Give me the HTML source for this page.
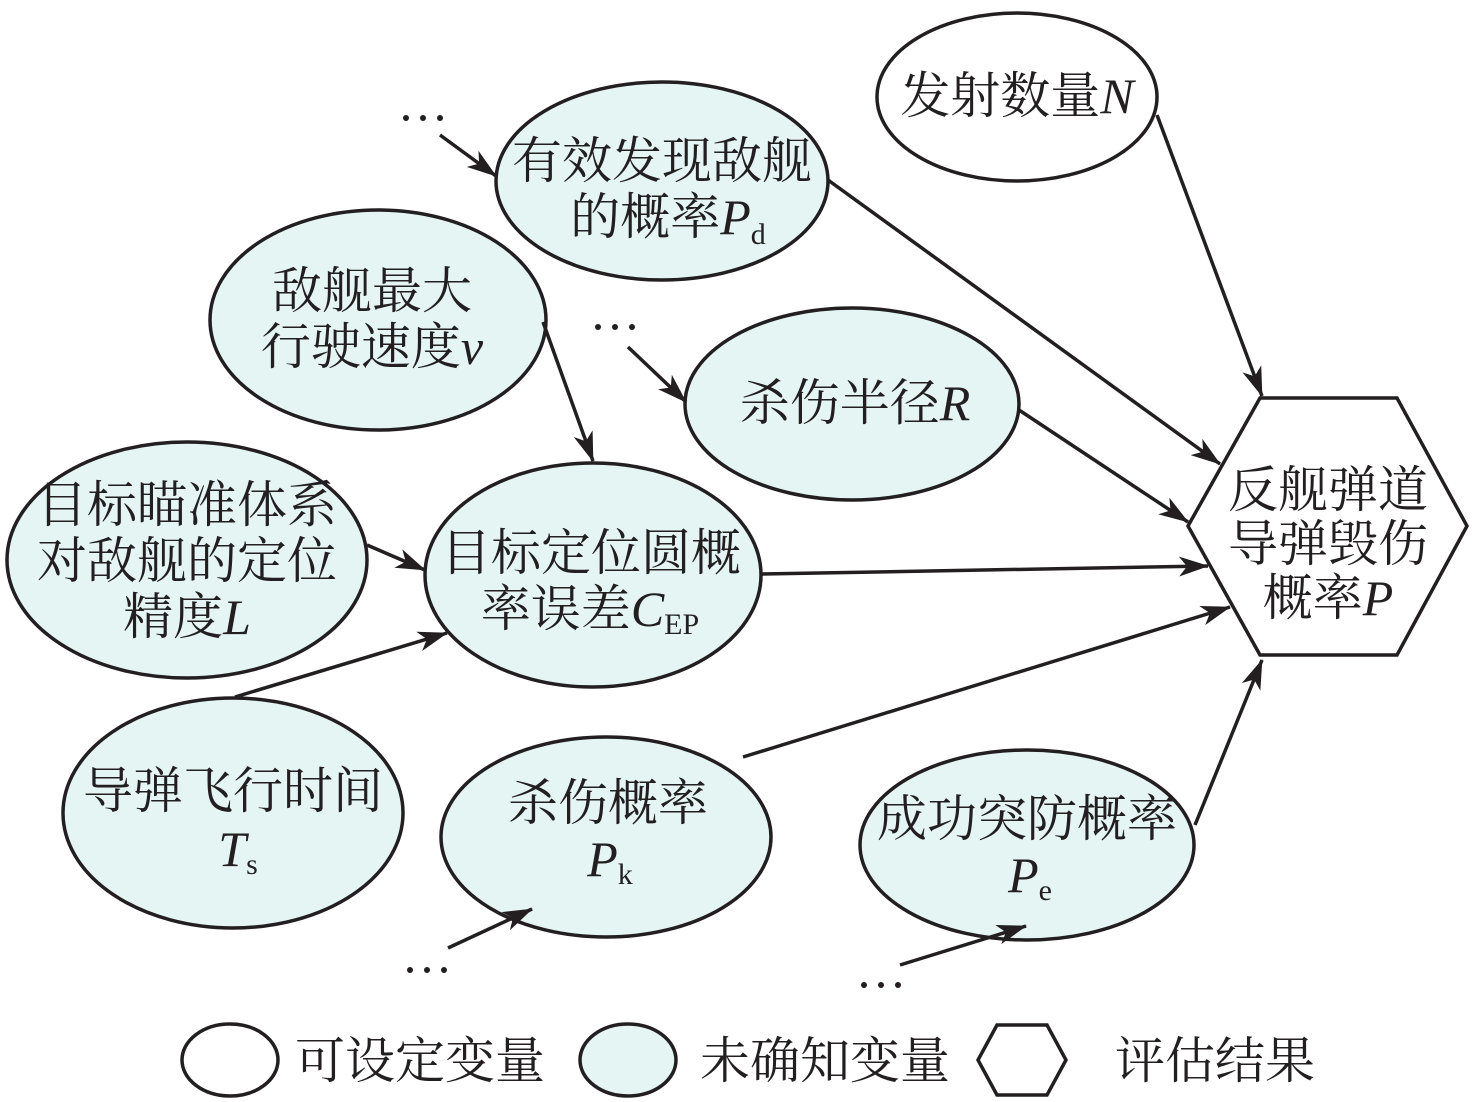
<!DOCTYPE html>
<html><head><meta charset="utf-8"><style>
html,body{margin:0;padding:0;background:#fff;}
svg{display:block;}
text{font-family:"Liberation Serif","Noto Serif CJK SC",serif;font-size:50px;fill:#231f20;}
.i{font-style:italic;}
.s{font-size:30px;font-style:normal;}
</style></head><body>
<svg width="1476" height="1102" viewBox="0 0 1476 1102" xmlns="http://www.w3.org/2000/svg">
<defs>
<marker id="a" viewBox="0 0 30 20" refX="29" refY="10" markerWidth="30" markerHeight="20" markerUnits="userSpaceOnUse" orient="auto">
<path d="M0,0 L30,10 L0,20 L8,10 Z" fill="#231f20"/>
</marker>
</defs>
<g stroke="#231f20" stroke-width="3.5">
<ellipse cx="1017" cy="97" rx="140" ry="84" fill="#fff"/>
<ellipse cx="662" cy="181" rx="166" ry="99" fill="#e4f5f4"/>
<ellipse cx="378" cy="320" rx="168" ry="110" fill="#e4f5f4"/>
<ellipse cx="852" cy="404" rx="167" ry="96" fill="#e4f5f4"/>
<ellipse cx="187" cy="560" rx="180" ry="118" fill="#e4f5f4"/>
<ellipse cx="593" cy="575" rx="168" ry="112" fill="#e4f5f4"/>
<ellipse cx="233" cy="813" rx="170" ry="115" fill="#e4f5f4"/>
<ellipse cx="606" cy="837" rx="165" ry="100" fill="#e4f5f4"/>
<ellipse cx="1027" cy="845" rx="167" ry="95" fill="#e4f5f4"/>
<polygon points="1188,526 1260,398 1397,398 1467,526 1397,655 1260,655" fill="#fff"/>
</g>
<g stroke="#231f20" stroke-width="3.5" fill="none" marker-end="url(#a)">
<line x1="1157" y1="115" x2="1262" y2="396"/>
<line x1="828" y1="180" x2="1220" y2="464"/>
<line x1="543" y1="322" x2="593" y2="461"/>
<line x1="1019" y1="410" x2="1188" y2="522"/>
<line x1="367" y1="545" x2="425" y2="570"/>
<line x1="762" y1="574" x2="1208" y2="566"/>
<line x1="235" y1="697" x2="447" y2="633"/>
<line x1="743" y1="757" x2="1230" y2="607"/>
<line x1="1195" y1="825" x2="1262" y2="660"/>
<line x1="440" y1="135" x2="496" y2="176"/>
<line x1="628" y1="347" x2="686" y2="402"/>
<line x1="448" y1="948" x2="532" y2="909"/>
<line x1="900" y1="965" x2="1026" y2="926"/>
</g>
<g fill="#231f20">
<circle cx="406" cy="118" r="3"/><circle cx="423" cy="118" r="3"/><circle cx="440" cy="118" r="3"/>
<circle cx="598" cy="327" r="3"/><circle cx="615" cy="327" r="3"/><circle cx="632" cy="327" r="3"/>
<circle cx="410" cy="970" r="3"/><circle cx="427" cy="970" r="3"/><circle cx="444" cy="970" r="3"/>
<circle cx="864" cy="985" r="3"/><circle cx="881" cy="985" r="3"/><circle cx="898" cy="985" r="3"/>
</g>
<text x="1017" y="113" text-anchor="middle">发射数量<tspan class="i">N</tspan></text>
<text x="662" y="178" text-anchor="middle">有效发现敌舰</text>
<text x="668" y="234" text-anchor="middle">的概率<tspan class="i">P</tspan><tspan class="s" dy="10">d</tspan></text>
<text x="372" y="308" text-anchor="middle">敌舰最大</text>
<text x="372" y="364" text-anchor="middle">行驶速度<tspan class="i">v</tspan></text>
<text x="855" y="420" text-anchor="middle">杀伤半径<tspan class="i">R</tspan></text>
<text x="187" y="522" text-anchor="middle">目标瞄准体系</text>
<text x="187" y="578" text-anchor="middle">对敌舰的定位</text>
<text x="187" y="634" text-anchor="middle">精度<tspan class="i">L</tspan></text>
<text x="591" y="570" text-anchor="middle">目标定位圆概</text>
<text x="590" y="626" text-anchor="middle">率误差<tspan class="i">C</tspan><tspan class="s" dy="8">EP</tspan></text>
<text x="233" y="808" text-anchor="middle">导弹飞行时间</text>
<text x="238" y="866" text-anchor="middle"><tspan class="i">T</tspan><tspan class="s" dy="8">s</tspan></text>
<text x="608" y="820" text-anchor="middle">杀伤概率</text>
<text x="610" y="876" text-anchor="middle"><tspan class="i">P</tspan><tspan class="s" dy="8">k</tspan></text>
<text x="1027" y="836" text-anchor="middle">成功突防概率</text>
<text x="1030" y="892" text-anchor="middle"><tspan class="i">P</tspan><tspan class="s" dy="8">e</tspan></text>
<text x="1328" y="507" text-anchor="middle">反舰弹道</text>
<text x="1328" y="561" text-anchor="middle">导弹毁伤</text>
<text x="1328" y="615" text-anchor="middle">概率<tspan class="i">P</tspan></text>
<g stroke="#231f20" stroke-width="3.5">
<ellipse cx="230" cy="1060" rx="48" ry="36" fill="#fff"/>
<ellipse cx="628" cy="1060" rx="48" ry="36" fill="#e4f5f4"/>
<polygon points="978,1060 997,1025 1047,1025 1066,1060 1047,1095 997,1095" fill="#fff"/>
</g>
<text x="295" y="1078">可设定变量</text>
<text x="700" y="1078">未确知变量</text>
<text x="1115" y="1078">评估结果</text>
</svg>
</body></html>
